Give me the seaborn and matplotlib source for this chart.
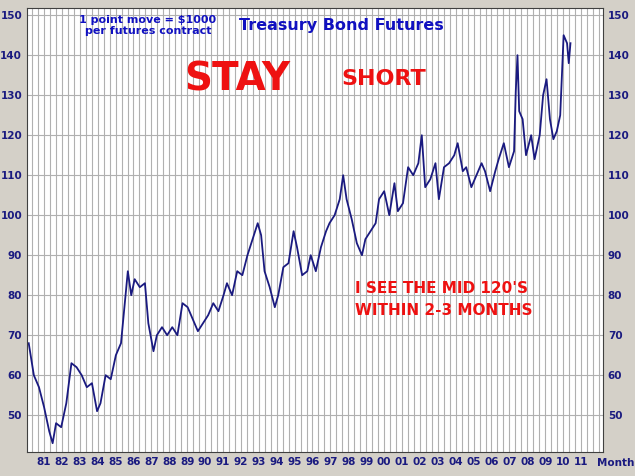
import numpy as np
import pandas as pd
import matplotlib
matplotlib.use('Agg')
import matplotlib.pyplot as plt
import seaborn as sns

# Treasury bond futures
years = [1980.4, 1980.7, 1981.0, 1981.3, 1981.6, 1981.8, 1982.0, 1982.3, 1982.6, 1982.9,
         1983.2, 1983.5, 1983.8, 1984.1, 1984.4, 1984.6, 1984.9, 1985.2, 1985.5, 1985.8,
         1986.0, 1986.2, 1986.4, 1986.6, 1986.9, 1987.2, 1987.4, 1987.7, 1987.9, 1988.2,
         1988.5, 1988.8, 1989.1, 1989.4, 1989.7, 1990.0, 1990.3, 1990.6, 1990.9, 1991.2,
         1991.5, 1991.8, 1992.0, 1992.3, 1992.6, 1992.9, 1993.2, 1993.5, 1993.8, 1994.0,
         1994.2, 1994.5, 1994.8, 1995.0, 1995.3, 1995.6, 1995.9, 1996.1, 1996.4, 1996.7,
         1996.9, 1997.2, 1997.5, 1997.8, 1998.0, 1998.3, 1998.6, 1998.8, 1999.0, 1999.3,
         1999.6, 1999.9, 2000.1, 2000.4, 2000.7, 2000.9, 2001.2, 2001.5, 2001.8, 2002.0,
         2002.3, 2002.6, 2002.9, 2003.2, 2003.4, 2003.6, 2003.9, 2004.2, 2004.4, 2004.7,
         2005.0, 2005.3, 2005.5, 2005.8, 2006.0, 2006.3, 2006.6, 2006.9, 2007.1, 2007.4,
         2007.7, 2007.9, 2008.2, 2008.5, 2008.8, 2008.9, 2009.0, 2009.1, 2009.3, 2009.5,
         2009.8, 2010.0, 2010.3, 2010.5, 2010.7, 2010.9, 2011.1, 2011.3, 2011.5, 2011.6,
         2011.7, 2011.9, 2012.0, 2012.1]
prices = [68, 60, 57, 52, 46, 43, 48, 47, 53, 63,
          62, 60, 57, 58, 51, 53, 60, 59, 65, 68,
          77, 86, 80, 84, 82, 83, 73, 66, 70, 72,
          70, 72, 70, 78, 77, 74, 71, 73, 75, 78,
          76, 80, 83, 80, 86, 85, 90, 94, 98, 95,
          86, 82, 77, 80, 87, 88, 96, 92, 85, 86,
          90, 86, 92, 96, 98, 100, 104, 110, 104, 99,
          93, 90, 94, 96, 98, 104, 106, 100, 108, 101,
          103, 112, 110, 113, 120, 107, 109, 113, 104, 112,
          113, 115, 118, 111, 112, 107, 110, 113, 111, 106,
          111, 114, 118, 112, 116, 131, 140, 126, 124, 115,
          120, 114, 120, 130, 134, 124, 119, 121, 125, 135,
          145, 143, 138, 143]
year_labels = ["81", "82", "83", "84", "85", "86", "87", "88", "89", "90",
               "91", "92", "93", "94", "95", "96", "97", "98", "99", "00",
               "01", "02", "03", "04", "05", "06", "07", "08", "09", "10", "11"]

df = pd.DataFrame({"year": years, "price": prices})

fig = plt.figure(figsize=(6.35, 4.76), dpi=100, facecolor="#d4d0c8")
ax = fig.add_axes([27 / 635, 24 / 476, 576 / 635, 444 / 476])
ax.set_facecolor("white")

# x scale: 17.09 px per year, left edge at 1980.3
x0, ppy = 1980.3, 17.09
tick_pos = [x0 + (44 + i * (581 - 44) / 30 - 27) / ppy for i in range(len(year_labels))]
step = tick_pos[1] - tick_pos[0]
for x in np.arange(tick_pos[0] - step, 2014.5, step / 3):
    ax.axvline(x, color="#b0b0b0", lw=0.8, zorder=0)
for y in range(50, 151, 10):
    ax.axhline(y, color="#b0b0b0", lw=0.8, zorder=0)

sns.lineplot(data=df, x="year", y="price", ax=ax, color="#1a1a80", lw=1.3)

ax.set_xlim(x0, x0 + 576 / ppy)
ax.set_ylim(40.8, 151.8)
ax.set_xticks(tick_pos)
ax.set_xticklabels(year_labels)
ax.set_yticks(range(50, 151, 10))
ax.tick_params(axis="both", labelsize=7.5, length=0, labelright=True, right=False)
for lbl in ax.get_xticklabels() + ax.get_yticklabels():
    lbl.set_color("#1a1a80")
    lbl.set_fontweight("bold")
ax.set_xlabel("")
ax.set_ylabel("")
for s in ax.spines.values():
    s.set_color("#404040")

fig.text(597 / 635, 1 - 463 / 476, "Monthly", color="#1a1a80", fontsize=7.5,
         fontweight="bold", ha="left", va="center")
ax.text(0.21, 0.985, "1 point move = $1000\nper futures contract", transform=ax.transAxes,
        color="#1010c0", fontsize=8, fontweight="bold", va="top", ha="center")
ax.text(0.545, 0.96, "Treasury Bond Futures", transform=ax.transAxes,
        color="#1010c0", fontsize=11.5, fontweight="bold", va="center", ha="center")
ax.text(0.365, 0.84, "STAY", transform=ax.transAxes, color="#ee1111",
        fontsize=28, fontweight="bold", va="center", ha="center")
ax.text(0.62, 0.84, "SHORT", transform=ax.transAxes, color="#ee1111",
        fontsize=16, fontweight="bold", va="center", ha="center")
ax.text(0.57, 0.385, "I SEE THE MID 120'S\nWITHIN 2-3 MONTHS", transform=ax.transAxes,
        color="#ee1111", fontsize=11, fontweight="bold", va="top", ha="left",
        linespacing=1.6)

fig.savefig("out.png", dpi=100, facecolor=fig.get_facecolor())
